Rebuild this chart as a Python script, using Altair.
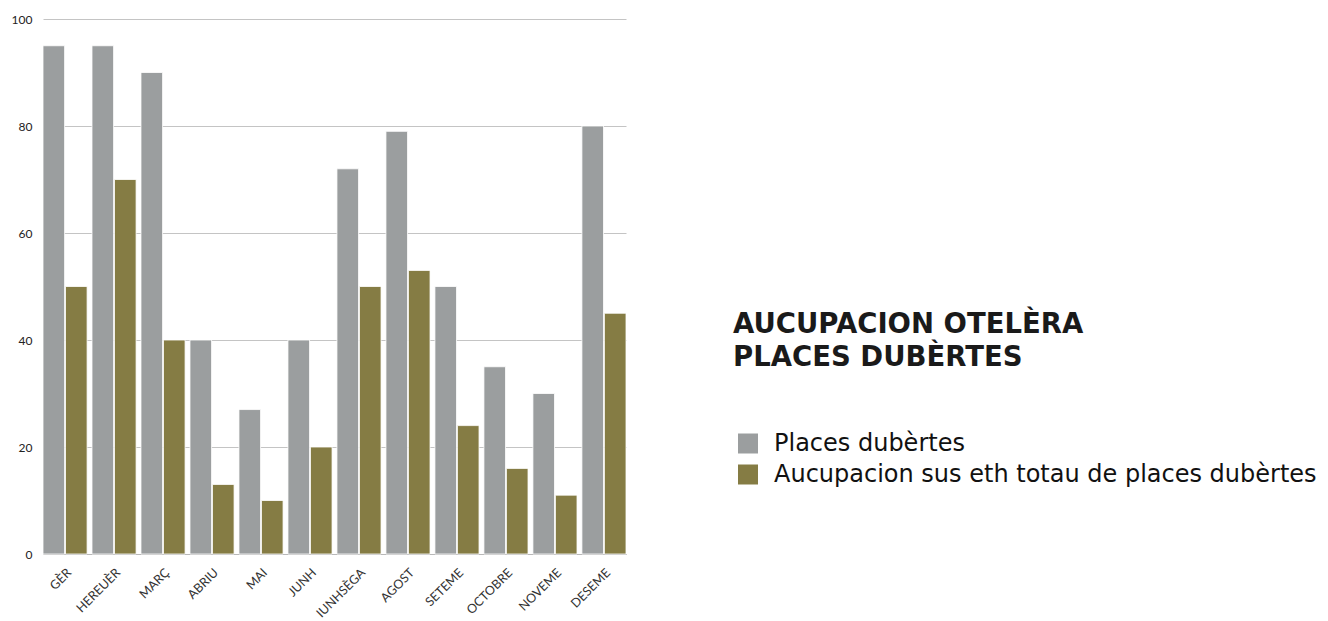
import altair as alt
import pandas as pd

months = ["GÈR", "HEREUÈR", "MARÇ", "ABRIU", "MAI", "JUNH", "IUNHSÈGA",
          "AGOST", "SETEME", "OCTOBRE", "NOVEME", "DESEME"]
series_names = ["Places dubèrtes", "Aucupacion sus eth totau de places dubèrtes"]
places = [95, 95, 90, 40, 27, 40, 72, 79, 50, 35, 30, 80]
aucupacion = [50, 70, 40, 13, 10, 20, 50, 53, 24, 16, 11, 45]
colors = ["#9b9e9f", "#857c44"]

rows = []
for i, m in enumerate(months):
    rows.append({"mes": m, "serie": series_names[0], "valor": places[i]})
    rows.append({"mes": m, "serie": series_names[1], "valor": aucupacion[i]})
df = pd.DataFrame(rows)

AXFONT = "Lato"
LEGFONT = "DejaVu Sans"

chart = alt.Chart(df).mark_bar(stroke="white", strokeWidth=0.8).encode(
    x=alt.X("mes:N", sort=months, title=None,
            scale=alt.Scale(paddingInner=0.1, paddingOuter=0),
            axis=alt.Axis(labelAngle=-45, labelFontSize=12.5, labelColor="#333333",
                          labelFont=AXFONT, ticks=False, domainColor="#b8b8b8",
                          domainWidth=1, labelPadding=12)),
    xOffset=alt.XOffset("serie:N", sort=series_names,
                        scale=alt.Scale(paddingInner=0.04, paddingOuter=0)),
    y=alt.Y("valor:Q", title=None,
            scale=alt.Scale(domain=[0, 100], nice=False),
            axis=alt.Axis(values=[0, 20, 40, 60, 80, 100], ticks=False, domain=False,
                          labelFontSize=12, labelColor="#222222", labelFont=AXFONT,
                          labelPadding=11, gridColor="#c4c4c4", gridWidth=1)),
    color=alt.Color("serie:N", sort=series_names,
                    scale=alt.Scale(domain=series_names, range=colors),
                    legend=alt.Legend(
                        title=["AUCUPACION OTELÈRA", "PLACES DUBÈRTES"],
                        orient="none", legendX=690, legendY=292,
                        titleFont=LEGFONT, titleFontSize=27.5, titleFontWeight="bold",
                        titleColor="#1a1a1a", titleLineHeight=33,
                        titlePadding=60, titleLimit=700,
                        labelFont=LEGFONT, labelFontSize=24, labelFontWeight="normal",
                        labelColor="#111111", labelLimit=700, labelOffset=14,
                        symbolType="square", symbolSize=400, symbolStrokeWidth=0,
                        symbolOffset=3, rowPadding=7, padding=0)),
).properties(
    width=583, height=535,
    autosize=alt.AutoSizeParams(type="none"),
    padding={"left": 35, "top": 11, "right": 690, "bottom": 66},
).configure_view(stroke=None)

chart.save("out.html", embed_options={"renderer": "svg", "actions": False})
